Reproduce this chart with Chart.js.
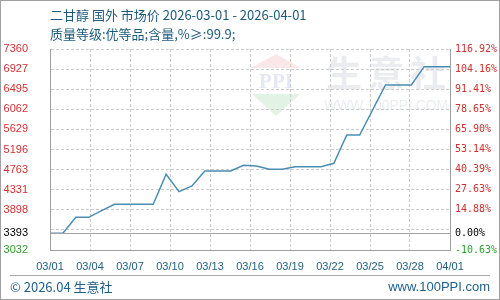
<!DOCTYPE html>
<html>
<head>
<meta charset="utf-8">
<script src="https://cdn.jsdelivr.net/npm/chart.js@4"></script>
<style>
  html, body { margin: 0; padding: 0; background: #fff; }
  #wrap { width: 500px; height: 300px; position: relative; }
</style>
</head>
<body>
<div id="wrap"><canvas id="chart" width="500" height="300"></canvas></div>
<script>
// 二甘醇 国外 市场价, one value per day 03/01 .. 04/01
var days = [0, 1, 2, 3, 4, 5, 6, 7, 8, 9, 10, 11, 12, 13, 14, 15,
            16, 17, 18, 19, 20, 21, 22, 23, 24, 25, 26, 27, 28, 29, 30, 31];
var prices = [3393, 3393, 3736, 3736, 3880, 4016, 4016, 4016, 4016, 4662, 4290, 4410, 4733, 4733, 4733, 4856,
              4841, 4769, 4769, 4826, 4826, 4826, 4898, 5508, 5508, 6047, 6585, 6585, 6585, 6980, 6980, 6980];
var xTickLabels = ['03/01', '03/04', '03/07', '03/10', '03/13', '03/16', '03/19', '03/22', '03/25', '03/28', '04/01'];
// left axis ticks (3465 only carries a grid line), right axis labels in the same order
var leftTicks = [3032, 3393, 3465, 3898, 4331, 4763, 5196, 5629, 6062, 6495, 6927, 7360];
var rightTickLabels = ['-10.63%', '0.00%', '', '14.88%', '27.63%', '40.39%', '53.14%', '65.90%', '78.65%', '91.41%', '104.16%', '116.92%'];
var hiddenTick = 3465;
var baseValue = 3393;
var titleLine1 = '二甘醇 国外 市场价 2026-03-01 - 2026-04-01';
var titleLine2 = '质量等级:优等品;含量,%≥:99.9;';

var CJK = '"Noto Sans CJK SC", "Noto Sans", sans-serif';

function tickColor(v) {
    if (v > baseValue) return '#d03030';
    if (v < baseValue) return '#2ea02e';
    return '#000000';
}

function setTicks(scale) {
    scale.ticks = leftTicks.map(function(v) { return { value: v }; });
}

// watermark, title, footer and frame
var decorPlugin = {
    id: 'decor',
    beforeDraw: function(chart) {
        var ctx = chart.ctx;
        ctx.save();
        // watermark logo
        ctx.fillStyle = 'rgba(230,120,120,0.18)';
        ctx.beginPath();
        ctx.moveTo(276, 54); ctx.lineTo(301, 68); ctx.lineTo(251, 68); ctx.closePath();
        ctx.fill();
        ctx.fillStyle = 'rgba(120,140,200,0.2)';
        ctx.font = 'bold 21px "Liberation Serif", serif';
        ctx.textAlign = 'center';
        ctx.textBaseline = 'middle';
        ctx.fillText('PPI', 276, 83, 46);
        ctx.fillStyle = 'rgba(110,190,120,0.2)';
        ctx.beginPath();
        ctx.moveTo(252, 94); ctx.lineTo(300, 94); ctx.lineTo(276, 116); ctx.closePath();
        ctx.fill();
        ctx.fillStyle = 'rgba(150,160,175,0.2)';
        ctx.font = 'bold 36px ' + CJK;
        var wm = ['生', '意', '社'];
        for (var i = 0; i < wm.length; i++) {
            ctx.fillText(wm[i], 344 + i * 42, 73);
        }
        ctx.font = '15px "Liberation Sans", sans-serif';
        ctx.fillText('WWW.100PPI.COM', 386, 106, 124);
        ctx.restore();
    },
    afterDraw: function(chart) {
        var ctx = chart.ctx;
        var yScale = chart.scales.y;
        var area = chart.chartArea;
        ctx.save();
        // solid baseline at the start price
        var by = Math.round(yScale.getPixelForValue(baseValue)) + 0.5;
        ctx.strokeStyle = '#a0a0a0';
        ctx.lineWidth = 1;
        ctx.beginPath();
        ctx.moveTo(area.left, by); ctx.lineTo(area.right, by);
        ctx.stroke();
        // title
        ctx.fillStyle = '#1c5a7c';
        ctx.textBaseline = 'middle';
        ctx.textAlign = 'left';
        ctx.font = '13px ' + CJK;
        ctx.fillText(titleLine1, 50, 15);
        ctx.fillText(titleLine2, 50, 34);
        // footer
        ctx.strokeStyle = '#a8a8a8';
        ctx.beginPath();
        ctx.moveTo(10, 275.5); ctx.lineTo(490, 275.5);
        ctx.stroke();
        ctx.fillStyle = '#1f5f8b';
        ctx.font = '13px ' + CJK;
        ctx.fillText('© 2026.04 生意社', 10, 287);
        ctx.textAlign = 'right';
        ctx.font = '13px "Liberation Sans", sans-serif';
        ctx.fillText('www.100PPI.com', 490, 287);
        // outer frame
        ctx.strokeStyle = '#a0a0a0';
        ctx.strokeRect(0.5, 0.5, 499, 299);
        ctx.restore();
    }
};

var points = days.map(function(d, i) { return { x: d, y: prices[i] }; });

new Chart(document.getElementById('chart').getContext('2d'), {
    type: 'line',
    data: {
        datasets: [{
            data: points,
            borderColor: '#4a8db3',
            borderWidth: 1.5,
            pointRadius: 0,
            tension: 0,
            fill: false
        }]
    },
    options: {
        responsive: false,
        animation: false,
        events: [],
        layout: { padding: { top: 49, left: 0, right: 0, bottom: 0 } },
        plugins: { legend: { display: false }, tooltip: { enabled: false }, title: { display: false } },
        scales: {
            x: {
                type: 'linear',
                min: 0,
                max: 31,
                afterBuildTicks: function(scale) {
                    scale.ticks = xTickLabels.map(function(l, i) { return { value: i * 31 / (xTickLabels.length - 1) }; });
                },
                afterFit: function(scale) { scale.height = 50; },
                ticks: {
                    autoSkip: false,
                    maxRotation: 0,
                    padding: 10,
                    color: '#1f5f7f',
                    font: { family: '"Liberation Sans", sans-serif', size: 11 },
                    callback: function(v, i) { return xTickLabels[i]; }
                },
                grid: { color: '#cccccc', drawTicks: false },
                border: { color: '#a0a0a0', dash: [3, 2] }
            },
            y: {
                position: 'left',
                min: 3032,
                max: 7360,
                afterBuildTicks: setTicks,
                afterFit: function(scale) { scale.width = 50; },
                ticks: {
                    autoSkip: false,
                    padding: 22,
                    font: { family: '"Liberation Sans", sans-serif', size: 11 },
                    color: function(c) { return tickColor(c.tick.value); },
                    callback: function(v) { return v === hiddenTick ? '' : String(v); }
                },
                grid: { color: '#cccccc', drawTicks: false },
                border: { color: '#a0a0a0', dash: [3, 2] }
            },
            y2: {
                position: 'right',
                min: 3032,
                max: 7360,
                afterBuildTicks: setTicks,
                afterFit: function(scale) { scale.width = 50; },
                ticks: {
                    autoSkip: false,
                    padding: 5,
                    font: { family: '"DejaVu Sans Mono", monospace', size: 10 },
                    color: function(c) { return tickColor(c.tick.value); },
                    callback: function(v, i) { return rightTickLabels[i]; }
                },
                grid: { display: false, drawTicks: false },
                border: { color: '#a0a0a0' }
            }
        }
    },
    plugins: [decorPlugin]
});
</script>
</body>
</html>
